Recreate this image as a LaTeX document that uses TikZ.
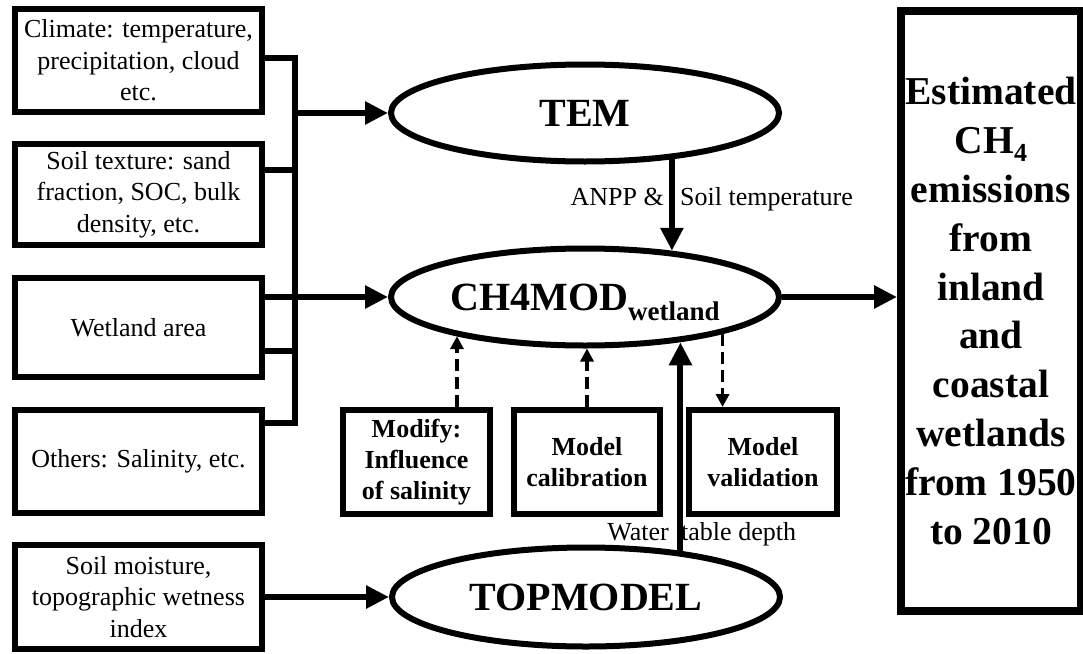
\documentclass[tikz,border=0pt]{standalone}
\usepackage{fontspec}
\setmainfont{Liberation Serif}
\usetikzlibrary{arrows.meta,calc,shapes.geometric}
\begin{document}
\begin{tikzpicture}[x=1pt,y=-1pt,
  box/.style={draw, line width=6pt, rectangle, align=center, inner sep=0pt,
    font=\fontsize{26}{31.5}\selectfont, minimum width=247pt},
  sbox/.style={draw, line width=6pt, rectangle, align=center, inner sep=0pt,
    font=\bfseries\fontsize{26}{31}\selectfont, minimum height=104pt},
  oval/.style={draw, ellipse, line width=6pt, inner sep=0pt, minimum width=388pt,
    minimum height=97pt, font=\bfseries\fontsize{40}{40}\selectfont},
  conn/.style={line width=6pt},
  arr/.style={line width=6pt, -{Triangle[length=23pt,width=22pt]}},
  darr/.style={line width=3.5pt, dash pattern=on 12pt off 6pt, -{Triangle[length=13pt,width=13pt]}},
  lbl/.style={font=\fontsize{26}{26}\selectfont, inner sep=0pt},
]
\useasboundingbox (0,0) rectangle (1083,653);

% left input boxes
\node[box, minimum height=103pt] (b1) at (138.5,60.5) {Climate: temperature,\\ precipitation, cloud\\ etc.};
\node[box, minimum height=101pt] (b2) at (138.5,194.5) {Soil texture: sand\\ fraction, SOC, bulk\\ density, etc.};
\node[box, minimum height=99pt] (b3) at (138.5,327.5) {Wetland area};
\node[box, minimum height=103pt] (b4) at (138.5,461.5) {Others: Salinity, etc.};
\node[box, minimum height=104pt] (b5) at (138.5,597) {Soil moisture,\\ topographic wetness\\ index};

% models
\node[oval] (tem) at (585,113) {TEM};
\node[oval, text height=27pt, text depth=0pt] (ch4) at (585,297) {CH4MOD\raisebox{-10pt}{\fontsize{27}{27}\selectfont wetland}};
\node[oval, minimum height=99pt] (top) at (586,597) {TOPMODEL};

% small boxes
\node[sbox, minimum width=147pt] (m1) at (416.5,462) {Modify:\\ Influence\\ of salinity};
\node[sbox, minimum width=146pt] (m2) at (587,462) {Model\\ calibration};
\node[sbox, minimum width=148pt] (m3) at (763,462) {Model\\ validation};

% output box
\node[draw, line width=8pt, rectangle, inner sep=0pt, minimum width=180pt, minimum height=600pt,
  align=center, font=\bfseries\fontsize{39.5}{48.8}\selectfont] (out) at (991,311)
  {Estimated\\ CH\raisebox{-8pt}{\fontsize{26}{26}\selectfont 4}\\ emissions\\ from\\ inland\\ and\\ coastal\\ wetlands\\ from 1950\\ to 2010};

% bus
\coordinate (bt) at (295,58);
\coordinate (bb) at (295,423);
\draw[conn] (b1.east |- bt) -- (bt) -- (bb) -- (bb -| b4.east);
\coordinate (c2) at ([yshift=24.5pt]b2.east);
\draw[conn] (c2) -- (c2 -| bt);
\coordinate (c3) at ([yshift=-23.5pt]b3.east);
\draw[conn] (c3) -- (c3 -| bt);
\draw[arr] (bt |- tem.west) -- (tem.west);
\draw[arr] (b3.east |- ch4.west) -- (ch4.west);
\draw[arr] (b5.east) -- (top.west);

% model links
\draw[arr] (tem.-28) -- (tem.-28 |- ch4.28);
\draw[arr] (top.26.9) -- (top.26.9 |- ch4.-26.3);
\draw[arr] (ch4.east) -- (ch4.east -| out.west);
\draw[darr] (m1.north -| ch4.197.2) -- (ch4.197.2);
\draw[darr] (m2.north) -- (m2.north |- ch4.south);
\draw[darr] (ch4.-15.5) -- (ch4.-15.5 |- m3.north);

% labels
\node[lbl, anchor=base east] (l1) at (664,205) {ANPP \&};
\node[lbl, anchor=base west] (l2) at (680,205) {Soil temperature};
\node[lbl, anchor=base east] (l3) at (669,540) {Water};
\node[lbl, anchor=base west] (l4) at (681,540) {table depth};
\end{tikzpicture}
\end{document}
